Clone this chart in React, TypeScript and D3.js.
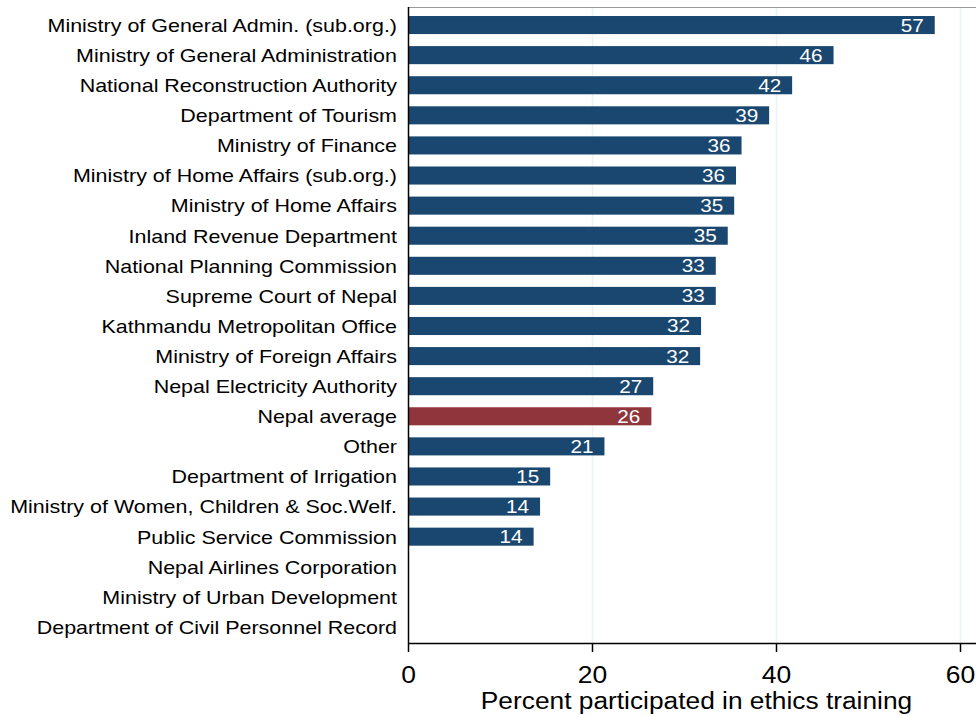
import React from "react";
import * as d3 from "d3";

const categories = [
  "Ministry of General Admin. (sub.org.)",
  "Ministry of General Administration",
  "National Reconstruction Authority",
  "Department of Tourism",
  "Ministry of Finance",
  "Ministry of Home Affairs (sub.org.)",
  "Ministry of Home Affairs",
  "Inland Revenue Department",
  "National Planning Commission",
  "Supreme Court of Nepal",
  "Kathmandu Metropolitan Office",
  "Ministry of Foreign Affairs",
  "Nepal Electricity Authority",
  "Nepal average",
  "Other",
  "Department of Irrigation",
  "Ministry of Women, Children & Soc.Welf.",
  "Public Service Commission",
  "Nepal Airlines Corporation",
  "Ministry of Urban Development",
  "Department of Civil Personnel Record",
];

const values: (number | null)[] = [
  57.2, 46.2, 41.7, 39.2, 36.2, 35.6, 35.4, 34.7, 33.4, 33.4, 31.8, 31.7,
  26.6, 26.4, 21.3, 15.4, 14.3, 13.6, null, null, null,
];

const highlight = "Nepal average";
const xTicks = [0, 20, 40, 60];
const xTitle = "Percent participated in ethics training";

const W = 976;
const H = 716;
const margin = { left: 408, top: 7, right: 0, bottom: 73 };

function SText(props: {
  x: number;
  y: number;
  sx: number;
  size: number;
  anchor: string;
  fill: string;
  dy?: string;
  children: React.ReactNode;
}) {
  return (
    <text
      transform={`translate(${props.x},${props.y}) scale(${props.sx},1)`}
      textAnchor={props.anchor}
      fontSize={props.size}
      fill={props.fill}
      dy={props.dy}
    >
      {props.children}
    </text>
  );
}

export default function App() {
  const plotBottom = H - margin.bottom;
  const x = d3.scaleLinear().domain([0, 60]).range([408.5, 960.5]);
  const y = d3
    .scaleBand<string>()
    .domain(categories)
    .range([10, 642])
    .paddingInner(0.4)
    .paddingOuter(0.2);
  const font = "'Liberation Sans', Arial, Helvetica, sans-serif";

  return (
    <svg
      width={W}
      height={H}
      style={{ position: "absolute", left: 0, top: 0, background: "#fff" }}
      fontFamily={font}
    >
      {xTicks.slice(1).map((t) => (
        <line
          key={"g" + t}
          x1={x(t)}
          x2={x(t)}
          y1={margin.top}
          y2={plotBottom}
          stroke="#eaf2f3"
          strokeWidth={1.5}
        />
      ))}
      <line x1={408} x2={W} y1={7.5} y2={7.5} stroke="#999" strokeWidth={1} />
      {categories.map((c, i) => {
        const v = values[i];
        if (v == null) return null;
        const y0 = y(c)!;
        const bw = y.bandwidth();
        return (
          <g key={c}>
            <rect
              x={x(0)}
              y={y0}
              width={x(v) - x(0)}
              height={bw}
              fill={c === highlight ? "#90353b" : "#1a476f"}
            />
            <SText x={x(v) - 11} y={y0 + bw / 2} dy="0.36em" anchor="end" fill="#fff" size={18} sx={1.15}>
              {Math.round(v)}
            </SText>
          </g>
        );
      })}
      {categories.map((c) => (
        <SText
          key={"l" + c}
          x={397}
          y={y(c)! + y.bandwidth() / 2}
          dy="0.36em"
          anchor="end"
          fill="#000"
          size={19}
          sx={1.13}
        >
          {c}
        </SText>
      ))}
      <line x1={408.5} x2={408.5} y1={7} y2={plotBottom} stroke="#000" strokeWidth={1.5} />
      <line x1={408} x2={W} y1={plotBottom + 0.5} y2={plotBottom + 0.5} stroke="#000" strokeWidth={1.5} />
      {xTicks.map((t) => (
        <g key={"t" + t}>
          <line x1={x(t)} x2={x(t)} y1={plotBottom} y2={plotBottom + 9} stroke="#000" strokeWidth={1.5} />
          <SText x={x(t)} y={683} anchor="middle" size={23} sx={1.15} fill="#000">
            {t}
          </SText>
        </g>
      ))}
      <SText x={696.5} y={709} anchor="middle" size={23.5} sx={1.12} fill="#000">
        {xTitle}
      </SText>
    </svg>
  );
}
